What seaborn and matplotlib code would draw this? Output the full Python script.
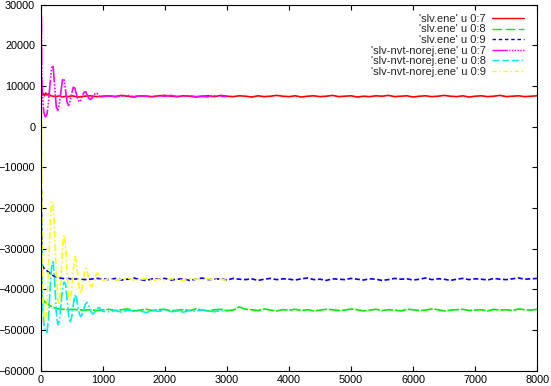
import numpy as np
import matplotlib
matplotlib.use("Agg")
import matplotlib.pyplot as plt
import seaborn as sns

# ---------------- data ----------------
# slv.ene series: dense transient then plateau to 8000
slv_x_trans = [12, 20, 40, 60, 80, 100, 130, 160, 200, 250, 300, 350, 400, 450, 500, 600, 700, 800, 900]
slv_x_plat = list(range(1000, 8001, 100))

slv_07_trans = [8300, 7700, 8200, 7600, 8300, 7800, 8100, 7600, 7500, 7400, 7600, 7300, 7500, 7400, 7600, 7300, 7500, 7600, 7400]
slv_07_plat = [7500, 7600, 7400, 7700, 7500, 7300, 7600, 7500, 7400, 7600,
               7700, 7500, 7400, 7600, 7500, 7300, 7500, 7600, 7400, 7700,
               7500, 7400, 7600, 7500, 7300, 7600, 7400, 7500, 7700, 7500,
               7400, 7600, 7300, 7500, 7600, 7400, 7500, 7700, 7400, 7500,
               7600, 7300, 7500, 7400, 7600, 7500, 7700, 7400, 7500, 7600,
               7300, 7500, 7600, 7400, 7500, 7700, 7500, 7400, 7600, 7300,
               7500, 7600, 7400, 7500, 7700, 7400, 7500, 7600, 7400, 7500,
               7600]

slv_08_trans = [-36000, -42200, -42600, -43000, -43200, -43400, -43800, -44100, -44400, -44700, -44800, -44900, -44900, -45000, -44900, -45000, -45100, -45000, -45200]
slv_08_plat = [-45100, -44900, -45200, -45000, -44800, -45300, -45100, -44900, -45200, -45000,
               -44900, -45300, -45100, -45000, -45200, -44800, -45100, -45300, -45000, -44900,
               -45200, -45100, -44300, -44900, -45000, -45200, -44800, -45100, -45300, -45000,
               -45100, -44900, -45200, -45000, -45300, -45100, -44900, -45000, -45200, -45100,
               -44800, -45000, -45300, -45100, -44900, -45200, -45000, -45100, -45300, -44900,
               -45000, -45200, -45100, -44800, -45000, -45300, -45100, -45000, -44900, -45200,
               -45100, -45000, -45300, -44900, -45100, -45000, -45200, -44800, -45000, -45100,
               -44900]

slv_09_trans = [-15500, -34000, -34500, -35000, -35200, -35400, -35800, -36200, -36600, -37000, -37200, -37300, -37400, -37300, -37500, -37400, -37600, -37500, -37300]
slv_09_plat = [-37400, -37600, -37300, -37700, -37500, -37200, -37600, -37800, -37400, -37500,
               -37300, -37700, -37500, -37400, -37800, -37500, -37200, -37600, -37500, -37400,
               -37700, -37300, -37500, -37600, -37400, -37800, -37500, -37300, -37600, -37400,
               -37500, -37700, -37400, -37200, -37600, -37500, -37800, -37400, -37500, -37600,
               -37300, -37500, -37700, -37400, -37500, -37800, -37600, -37300, -37500, -37400,
               -37700, -37500, -37200, -37600, -37400, -37500, -37800, -37500, -37300, -37600,
               -37400, -37500, -37700, -37300, -37500, -37600, -37400, -37200, -37500, -37400,
               -37300]

# slv-nvt-norej.ene series: oscillating transient then plateau to 3000
nvt_x_trans = [12, 18] + list(range(25, 1001, 25))
nvt_x_plat = list(range(1100, 3001, 100))

nvt_07_trans = [27000, 12000, 8000, 3500, 2400, 3000, 6000, 10500, 14500, 14800,
                10000, 5000, 4000, 5500, 8500, 11500, 11800, 9000, 6000, 5200,
                6500, 8300, 9700, 9500, 8000, 6600, 6100, 6600, 7700, 8500,
                8600, 7800, 7000, 6700, 7000, 7600, 8100, 8300, 7900, 7400,
                7200, 7400]
nvt_07_plat = [7600, 7400, 7500, 7700, 7400, 7600, 7500, 7300, 7600, 7500,
               7700, 7400, 7500, 7600, 7400, 7500, 7300, 7600, 7500, 7400]

nvt_08_trans = [-22000, -30000, -42000, -48500, -50300, -50600, -47500, -40000, -34500, -33200,
                -38000, -45500, -48700, -47800, -44000, -40000, -38200, -38600, -42500, -46500,
                -47900, -46800, -43800, -41400, -42000, -44200, -46200, -46700, -45800, -44500,
                -43500, -43200, -44000, -45200, -45900, -46000, -45500, -44900, -44500, -44600,
                -45100, -45400]
nvt_08_plat = [-45500, -45200, -45600, -45100, -45400, -45300, -45700, -45200, -45400, -45100,
               -45500, -45300, -45600, -45200, -45400, -45000, -45300, -45500, -45200, -45400]

nvt_09_trans = [4000, -20000, -38000, -46500, -47800, -44000, -35000, -25000, -18500, -18800,
                -26000, -36000, -42500, -43800, -38000, -30000, -26600, -29000, -36000, -41800,
                -42600, -40000, -35000, -31900, -33000, -37000, -40200, -40900, -39000, -36200,
                -34800, -35600, -37600, -39000, -39300, -38300, -37000, -36100, -36000, -36800,
                -37600, -37800]
nvt_09_plat = [-37400, -37800, -37500, -37200, -37700, -37600, -37300, -37900, -37500, -37700,
               -37400, -37600, -37800, -37300, -37500, -37700, -37400, -37600, -37500, -37800]

labels = ["'slv.ene' u 0:7", "'slv.ene' u 0:8", "'slv.ene' u 0:9",
          "'slv-nvt-norej.ene' u 0:7", "'slv-nvt-norej.ene' u 0:8", "'slv-nvt-norej.ene' u 0:9"]
colors = ["#ff0000", "#00ee00", "#0000ff", "#ff00ff", "#00eeee", "#ffff00"]
# dash patterns used for the data lines (tight, as in the dense reference data)
data_styles = ["-", (0, (7, 1)), (0, (3, 1.5)),
               (0, (11, 1, 1, 1, 1, 1, 1, 1)),
               (0, (6, 1.5, 6, 1.5, 1, 1.5)), (0, (4, 1.5, 1, 1.5))]
# dash patterns for the legend samples
legend_styles = ["-", (0, (7, 2.5)), (0, (2.5, 2)),
                 (0, (11, 1, 1, 1, 1, 1, 1, 1, 1, 1, 1, 1)),
                 (0, (5, 2, 5, 2, 5, 2, 1, 2)), (0, (3, 2, 1, 2))]

x_ticks = list(range(0, 8001, 1000))
y_ticks = list(range(-60000, 30001, 10000))

# ---------------- plotting ----------------
sns.set_style("ticks")
plt.rcParams['font.family'] = ['Liberation Sans', 'DejaVu Sans']

fig = plt.figure(figsize=(5.51, 3.86), dpi=100)
ax = fig.add_axes([0.0739, 0.0396, 0.9751 - 0.0739, 0.9878 - 0.0396])

series = [
    (slv_x_trans + slv_x_plat, slv_07_trans + slv_07_plat),
    (slv_x_trans + slv_x_plat, slv_08_trans + slv_08_plat),
    (slv_x_trans + slv_x_plat, slv_09_trans + slv_09_plat),
    (nvt_x_trans + nvt_x_plat, nvt_07_trans + nvt_07_plat),
    (nvt_x_trans + nvt_x_plat, nvt_08_trans + nvt_08_plat),
    (nvt_x_trans + nvt_x_plat, nvt_09_trans + nvt_09_plat),
]

for (xs, ys), col, ls in zip(series, colors, data_styles):
    sns.lineplot(x=np.array(xs), y=np.array(ys), ax=ax, color=col,
                 linestyle=ls, linewidth=1.2, errorbar=None, legend=False)

ax.set_xlim(0, 8000)
ax.set_ylim(-60000, 30000)
ax.set_xticks(x_ticks)
ax.set_yticks(y_ticks)
ax.set_xlabel("")
ax.set_ylabel("")
ax.tick_params(direction="in", length=3.6, width=0.8, top=True, right=True,
               labelsize=7.8, pad=4, colors="black")
ax.tick_params(axis="x", pad=3)
for sp in ax.spines.values():
    sp.set_visible(True)
    sp.set_color("black")
    sp.set_linewidth(0.8)

handles = [matplotlib.lines.Line2D([], [], color=c, linestyle=s, linewidth=1.0)
           for c, s in zip(colors, legend_styles)]
leg = ax.legend(handles, labels, loc="upper right", bbox_to_anchor=(0.973, 0.975),
                frameon=False, markerfirst=False, handlelength=2.9, handletextpad=0.55,
                labelspacing=0.05, borderpad=0, borderaxespad=0, fontsize=8)
try:
    for col in leg._legend_handle_box.get_children():
        col.align = "right"
except Exception:
    pass

fig.savefig("out.png", dpi=100)
